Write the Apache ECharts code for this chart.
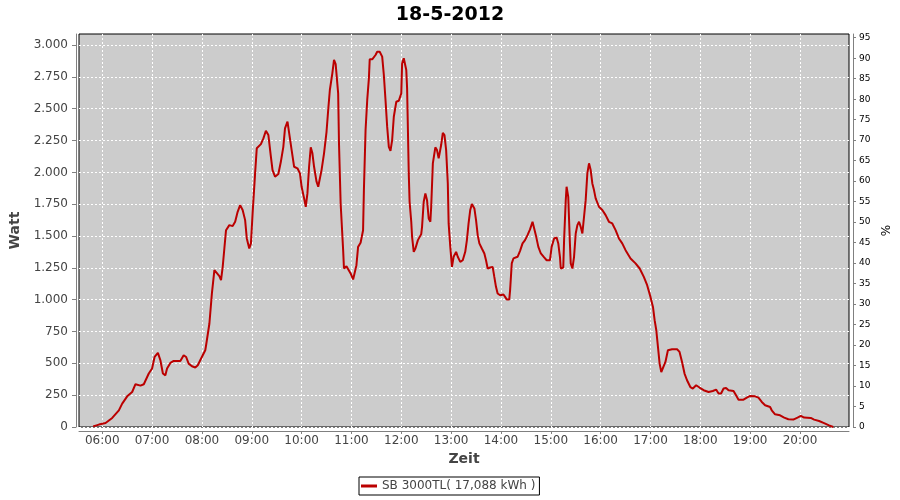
<!DOCTYPE html>
<html>
<head>
<meta charset="utf-8">
<script src="https://cdn.jsdelivr.net/npm/echarts@6/dist/echarts.min.js"></script>
<style>html,body{margin:0;padding:0;background:#fff}#c{width:900px;height:500px}</style>
</head>
<body>
<div id="c"></div>
<script>
const chartTitle = '18-5-2012';
const seriesName = 'SB 3000TL( 17,088 kWh )';
const times = ['05:49','05:56','06:04','06:12','06:20','06:24','06:30','06:36','06:40','06:46','06:50','06:56','07:00','07:03','07:07','07:10','07:13','07:16','07:18','07:22','07:26','07:34','07:38','07:41','07:44','07:48','07:52','07:55','07:59','08:04','08:05','08:09','08:12','08:15','08:17','08:21','08:23','08:25','08:27','08:29','08:33','08:37','08:40','08:43','08:46','08:49','08:52','08:54','08:57','08:59','09:01','09:04','09:06','09:11','09:14','09:17','09:20','09:23','09:25','09:28','09:32','09:35','09:38','09:40','09:43','09:45','09:48','09:51','09:55','09:58','10:00','10:03','10:05','10:07','10:09','10:11','10:13','10:15','10:18','10:20','10:22','10:24','10:27','10:30','10:32','10:34','10:37','10:39','10:41','10:44','10:45','10:47','10:50','10:51','10:54','10:56','10:59','11:02','11:06','11:08','11:11','11:14','11:15','11:17','11:19','11:21','11:22','11:25','11:27','11:29','11:31','11:34','11:37','11:39','11:41','11:43','11:45','11:47','11:49','11:51','11:54','11:57','12:00','12:01','12:03','12:06','12:07','12:09','12:10','12:12','12:13','12:15','12:17','12:20','12:24','12:25','12:27','12:29','12:31','12:33','12:35','12:36','12:38','12:41','12:43','12:45','12:48','12:50','12:52','12:54','12:56','12:57','12:59','13:01','13:03','13:06','13:08','13:11','13:14','13:17','13:19','13:21','13:23','13:25','13:28','13:30','13:32','13:34','13:37','13:40','13:42','13:44','13:47','13:50','13:52','13:54','13:56','13:59','14:03','14:05','14:07','14:10','14:11','14:13','14:15','14:17','14:20','14:23','14:26','14:29','14:32','14:35','14:38','14:40','14:42','14:45','14:48','14:52','14:55','14:59','15:01','15:04','15:07','15:09','15:11','15:12','15:15','15:16','15:18','15:19','15:21','15:23','15:24','15:26','15:28','15:30','15:32','15:34','15:36','15:38','15:40','15:42','15:44','15:46','15:48','15:50','15:52','15:54','15:58','16:02','16:06','16:10','16:14','16:18','16:22','16:26','16:30','16:36','16:42','16:47','16:52','16:56','17:00','17:03','17:05','17:07','17:09','17:11','17:13','17:15','17:18','17:21','17:26','17:32','17:35','17:38','17:41','17:44','17:48','17:51','17:55','17:59','18:04','18:10','18:15','18:19','18:22','18:25','18:28','18:31','18:34','18:40','18:43','18:46','18:52','18:56','19:00','19:06','19:10','19:14','19:18','19:24','19:26','19:30','19:36','19:41','19:46','19:52','19:57','20:01','20:05','20:13','20:17','20:23','20:29','20:35','20:40'];
const watts = [5,19,31,71,131,184,241,275,336,325,336,420,459,550,582,524,420,406,459,503,519,519,564,550,498,477,467,485,538,603,642,813,1049,1232,1245,1185,1153,1258,1402,1546,1586,1578,1612,1690,1743,1704,1625,1481,1402,1442,1678,1992,2189,2222,2267,2327,2293,2123,2018,1966,1987,2083,2201,2346,2398,2385,2175,2044,2032,1992,1887,1796,1730,1835,2044,2197,2150,2044,1926,1887,1900,2018,2150,2319,2490,2647,2778,2883,2850,2621,2228,1756,1389,1245,1263,1271,1206,1159,1271,1415,1447,1546,1861,2333,2569,2739,2888,2888,2883,2922,2948,2948,2909,2765,2569,2359,2201,2170,2254,2437,2555,2563,2621,2857,2896,2804,2660,1992,1769,1612,1494,1376,1402,1468,1515,1572,1769,1835,1782,1638,1612,1730,2071,2197,2175,2110,2215,2311,2293,2175,1913,1599,1415,1258,1337,1376,1337,1297,1310,1376,1468,1599,1704,1751,1717,1625,1507,1442,1402,1363,1310,1245,1253,1258,1179,1101,1049,1035,1041,1022,1002,1002,1075,1285,1324,1337,1337,1384,1442,1468,1507,1552,1612,1604,1507,1415,1363,1332,1310,1310,1415,1481,1489,1442,1337,1245,1253,1468,1782,1887,1808,1442,1285,1245,1337,1520,1586,1612,1572,1520,1533,1782,1992,2071,2018,1913,1861,1796,1730,1704,1664,1612,1599,1546,1481,1442,1389,1324,1285,1245,1179,1114,1022,943,839,760,629,498,432,420,511,603,611,611,590,511,420,367,314,302,328,310,289,275,283,294,263,263,302,307,289,283,249,215,215,231,244,241,231,197,171,157,131,100,92,74,61,58,74,87,74,71,58,47,31,13,0];
const hourTicks = ['06:00','07:00','08:00','09:00','10:00','11:00','12:00','13:00','14:00','15:00','16:00','17:00','18:00','19:00','20:00'];
const wattTicks = [0,250,500,750,1000,1250,1500,1750,2000,2250,2500,2750,3000];
const percentTicks = [0,5,10,15,20,25,30,35,40,45,50,55,60,65,70,75,80,85,90,95];

function toMin(s){const p=s.split(':');return (+p[0])*60+(+p[1]);}
function fmtTime(m){const h=Math.floor(m/60), mm=Math.round(m%60);return String(h).padStart(2,'0')+':'+String(mm).padStart(2,'0');}
function fmtWatt(v){v=Math.round(v);if(v>=1000){return Math.floor(v/1000)+'.'+String(v%1000).padStart(3,'0');}return String(v);}

const data = times.map((t,i)=>[toMin(t), watts[i]]);
const FONT = 'DejaVu Sans';

const chart = echarts.init(document.getElementById('c'), null, {renderer:'canvas'});
chart.setOption({
  animation:false,
  backgroundColor:'#fff',
  title:{text:chartTitle,left:'center',top:1,textStyle:{fontFamily:FONT,fontSize:19,fontWeight:'bold',color:'#000'}},
  grid:{left:79,top:34,right:51,bottom:73,show:true,backgroundColor:'#cccccc',borderColor:'#000',borderWidth:1,outerBoundsMode:'none'},
  legend:{left:359,top:477,padding:[3,4,3,2],borderColor:'#000',borderWidth:1,borderRadius:0,itemWidth:16,itemHeight:3,icon:'rect',
    textStyle:{fontFamily:FONT,fontSize:12,color:'#444'},data:[seriesName]},
  xAxis:{type:'value',min:332,max:1259,offset:4,
    name:'Zeit',nameLocation:'middle',nameGap:21,nameTextStyle:{fontFamily:FONT,fontSize:14,fontWeight:'bold',color:'#444'},
    axisLine:{show:true,onZero:false,lineStyle:{color:'#808080'}},
    axisTick:{show:true,length:3,lineStyle:{color:'#808080'},customValues:hourTicks.map(toMin)},
    axisLabel:{customValues:hourTicks.map(toMin),formatter:fmtTime,margin:4,fontFamily:FONT,fontSize:12,color:'#444'},
    splitLine:{show:true,lineStyle:{color:'#fff',type:[2,2],width:1}}},
  yAxis:[
    {type:'value',min:0,max:3087,position:'left',offset:3,
      name:'Watt',nameLocation:'middle',nameGap:48,nameRotate:90,nameTextStyle:{fontFamily:FONT,fontSize:14,fontWeight:'bold',color:'#444'},
      axisLine:{show:true,lineStyle:{color:'#808080'}},
      axisTick:{show:true,length:4,lineStyle:{color:'#808080'},customValues:wattTicks},
      axisLabel:{customValues:wattTicks,formatter:fmtWatt,margin:8,fontFamily:FONT,fontSize:12,color:'#444'},
      splitLine:{show:true,lineStyle:{color:'#fff',type:[2,2],width:1}}},
    {type:'value',min:0,max:95.9,position:'right',offset:4,
      name:'%',nameLocation:'middle',nameGap:24,nameRotate:90,nameTextStyle:{fontFamily:FONT,fontSize:12,color:'#000'},
      axisLine:{show:true,lineStyle:{color:'#808080'}},
      axisTick:{show:true,length:3,lineStyle:{color:'#808080'},customValues:percentTicks},
      axisLabel:{customValues:percentTicks,margin:6,fontFamily:FONT,fontSize:9,color:'#000'},
      splitLine:{show:false}}
  ],
  series:[{name:seriesName,type:'line',data:data,yAxisIndex:0,showSymbol:false,symbol:'none',
    lineStyle:{width:2,color:'#bb0000'},itemStyle:{color:'#bb0000'}}]
});
</script>
</body>
</html>
